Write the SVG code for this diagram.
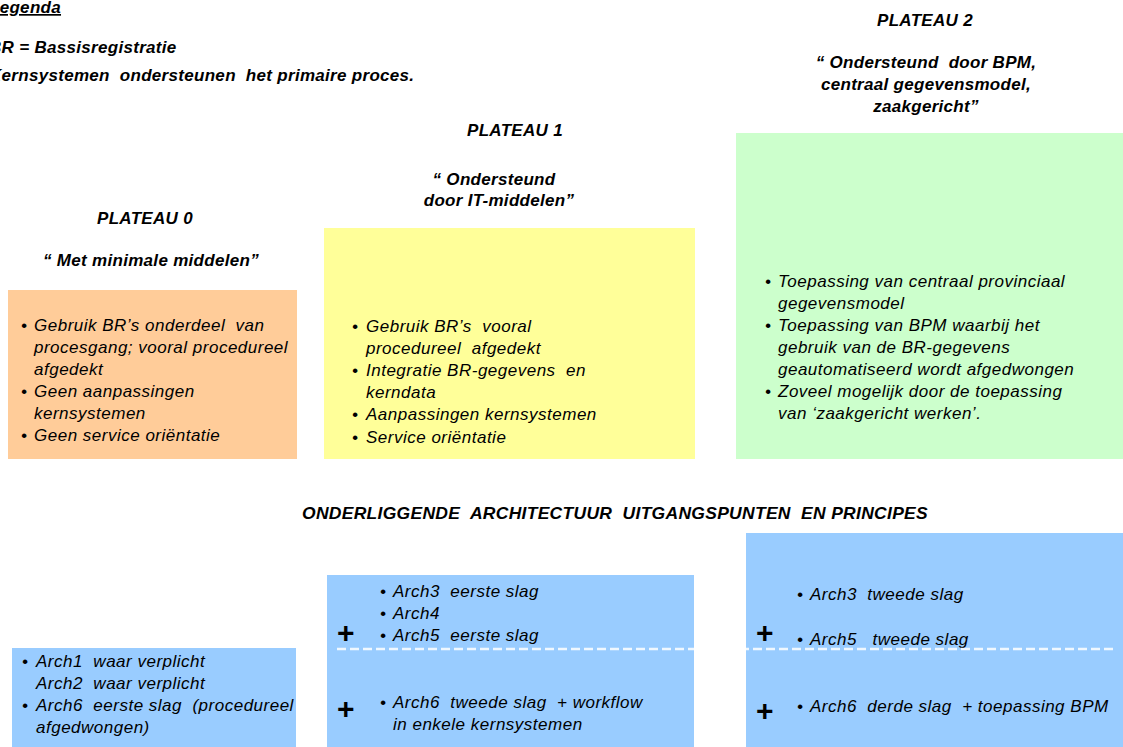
<svg xmlns="http://www.w3.org/2000/svg" width="1123" height="747" viewBox="0 0 1123 747">
<style>
text{font-family:"Liberation Sans",Arial,sans-serif;font-style:italic;fill:#000;}
.b{font-size:17px;letter-spacing:0.5px;}
.h{font-size:17px;font-weight:bold;letter-spacing:0.3px;}
.c{text-anchor:middle;}
.p{font-size:30px;font-style:normal;font-weight:bold;}
</style>
<rect width="1123" height="747" fill="#fff"/>
<g id="legend">
<text class="h" x="-11" y="13" text-decoration="underline">Legenda</text>
<text class="h" x="-11" y="53">BR = Bassisregistratie</text>
<text class="h" x="-11" y="81" xml:space="preserve">Kernsystemen  ondersteunen  het primaire proces.</text>
</g>
<g id="plateau0-title">
<text class="h c" x="145" y="224">PLATEAU 0</text>
<text class="h c" x="151" y="266">“ Met minimale middelen”</text>
</g>
<g id="plateau1-title">
<text class="h c" x="515" y="136">PLATEAU 1</text>
<text class="h c" x="494" y="185">“ Ondersteund</text>
<text class="h c" x="499" y="206">door IT-middelen”</text>
</g>
<g id="plateau2-title">
<text class="h c" x="925" y="26">PLATEAU 2</text>
<text class="h c" x="926" y="68" xml:space="preserve">“ Ondersteund  door BPM,</text>
<text class="h c" x="926" y="90">centraal gegevensmodel,</text>
<text class="h c" x="926" y="112">zaakgericht”</text>
</g>
<g id="plateau0">
<rect x="8" y="290" width="289" height="169" fill="#FFCC99"/>
<text class="b" x="21" y="331">•</text><text class="b" x="34" y="331" xml:space="preserve">Gebruik BR’s onderdeel  van</text>
<text class="b" x="34" y="353">procesgang; vooral procedureel</text>
<text class="b" x="34" y="375">afgedekt</text>
<text class="b" x="21" y="397">•</text><text class="b" x="34" y="397">Geen aanpassingen</text>
<text class="b" x="34" y="419">kernsystemen</text>
<text class="b" x="21" y="441">•</text><text class="b" x="34" y="441">Geen service oriëntatie</text>
</g>
<g id="plateau1">
<rect x="324" y="228" width="371" height="231" fill="#FFFF99"/>
<text class="b" x="352" y="332">•</text><text class="b" x="366" y="332" xml:space="preserve">Gebruik BR’s  vooral</text>
<text class="b" x="366" y="354" xml:space="preserve">procedureel  afgedekt</text>
<text class="b" x="352" y="376">•</text><text class="b" x="366" y="376" xml:space="preserve">Integratie BR-gegevens  en</text>
<text class="b" x="366" y="398">kerndata</text>
<text class="b" x="352" y="420">•</text><text class="b" x="366" y="420">Aanpassingen kernsystemen</text>
<text class="b" x="352" y="443">•</text><text class="b" x="366" y="443">Service oriëntatie</text>
</g>
<g id="plateau2">
<rect x="736" y="133" width="387" height="326" fill="#CCFFCC"/>
<text class="b" x="765" y="287">•</text><text class="b" x="778" y="287">Toepassing van centraal provinciaal</text>
<text class="b" x="778" y="309">gegevensmodel</text>
<text class="b" x="765" y="331">•</text><text class="b" x="778" y="331">Toepassing van BPM waarbij het</text>
<text class="b" x="778" y="353">gebruik van de BR-gegevens</text>
<text class="b" x="778" y="375">geautomatiseerd wordt afgedwongen</text>
<text class="b" x="765" y="397">•</text><text class="b" x="778" y="397">Zoveel mogelijk door de toepassing</text>
<text class="b" x="778" y="419">van ‘zaakgericht werken’.</text>
</g>
<g id="principles-title">
<text class="h" x="302" y="519" textLength="626" lengthAdjust="spacingAndGlyphs" xml:space="preserve">ONDERLIGGENDE  ARCHITECTUUR  UITGANGSPUNTEN  EN PRINCIPES</text>
</g>
<g id="arch0">
<rect x="12" y="648" width="284" height="99" fill="#99CCFF"/>
<text class="b" x="22" y="667">•</text><text class="b" x="36" y="667" xml:space="preserve">Arch1  waar verplicht</text>
<text class="b" x="36" y="689" xml:space="preserve">Arch2  waar verplicht</text>
<text class="b" x="22" y="711">•</text><text class="b" x="36" y="711" xml:space="preserve">Arch6  eerste slag  (procedureel</text>
<text class="b" x="36" y="733">afgedwongen)</text>
</g>
<g id="arch1">
<rect x="327" y="575" width="367" height="172" fill="#99CCFF"/>
<text class="b" x="380" y="597">•</text><text class="b" x="393" y="597" xml:space="preserve">Arch3  eerste slag</text>
<text class="b" x="380" y="619">•</text><text class="b" x="393" y="619">Arch4</text>
<text class="b" x="380" y="641">•</text><text class="b" x="393" y="641" xml:space="preserve">Arch5  eerste slag</text>
<text class="p" x="337" y="643">+</text>
<text class="p" x="337" y="719">+</text>
<text class="b" x="380" y="708">•</text><text class="b" x="393" y="708" xml:space="preserve">Arch6  tweede slag  + workflow</text>
<text class="b" x="393" y="730">in enkele kernsystemen</text>
</g>
<g id="arch2">
<rect x="746" y="533" width="377" height="214" fill="#99CCFF"/>
<text class="b" x="797" y="600">•</text><text class="b" x="810" y="600" xml:space="preserve">Arch3  tweede slag</text>
<text class="b" x="797" y="645">•</text><text class="b" x="810" y="645" xml:space="preserve">Arch5   tweede slag</text>
<text class="p" x="756" y="643">+</text>
<text class="p" x="756" y="721">+</text>
<text class="b" x="797" y="712">•</text><text class="b" x="810" y="712" xml:space="preserve">Arch6  derde slag  + toepassing BPM</text>
</g>
<g id="connectors">
<line x1="337" y1="649" x2="1113" y2="649" stroke="#fff" stroke-opacity="0.85" stroke-width="2.5" stroke-dasharray="9,4"/>
</g>
</svg>
